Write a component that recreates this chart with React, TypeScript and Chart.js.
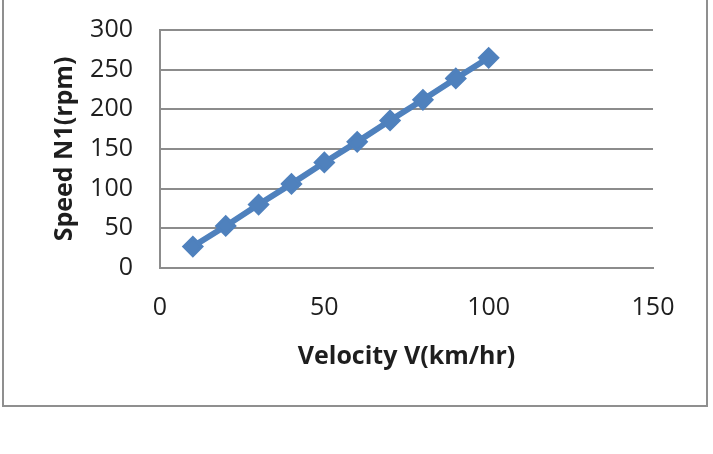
import React, { useEffect, useRef } from "react";
import { Chart, registerables } from "chart.js";

Chart.register(...registerables);

const velocity = [10, 20, 30, 40, 50, 60, 70, 80, 90, 100];
const speedN1 = [27, 53, 80, 106, 133, 159, 186, 212, 239, 265];
const xTicks = [0, 50, 100, 150];
const yTicks = [0, 50, 100, 150, 200, 250, 300];
const xTitle = "Velocity V(km/hr)";
const yTitle = "Speed N1(rpm)";

const FONT = "'Open Sans', 'Liberation Sans', sans-serif";
const GRID = "#8c8c8c";
const BLUE = "#4F81BD";

export default function App() {
  const ref = useRef<HTMLCanvasElement | null>(null);

  useEffect(() => {
    if (!ref.current) return;
    const chart = new Chart(ref.current, {
      type: "scatter",
      data: {
        datasets: [
          {
            data: velocity.map((v, i) => ({ x: v, y: speedN1[i] })),
            showLine: true,
            borderColor: BLUE,
            backgroundColor: BLUE,
            borderWidth: 6,
            pointStyle: "rectRot",
            pointRadius: 9,
            pointBorderWidth: 3,
            pointBackgroundColor: BLUE,
            pointBorderColor: BLUE,
          },
        ],
      },
      options: {
        animation: false,
        responsive: false,
        maintainAspectRatio: false,
        layout: { padding: { left: 0, top: 30, right: 60, bottom: 0 } },
        plugins: { legend: { display: false }, tooltip: { enabled: false } },
        scales: {
          x: {
            type: "linear",
            min: 0,
            max: 150,
            afterBuildTicks: (s: any) => {
              s.ticks = xTicks.map((v) => ({ value: v }));
            },
            afterFit: (s: any) => {
              s.height = 186;
              s.paddingLeft = 0;
              s.paddingRight = 0;
              s.paddingTop = 0;
              s.paddingBottom = 0;
            },
            grid: { display: false, drawTicks: false },
            border: { display: true, color: GRID, width: 2 },
            ticks: {
              padding: 25,
              color: "#1e1e1e",
              font: { family: FONT, size: 25 },
            },
            title: {
              display: true,
              text: xTitle,
              color: "#1e1e1e",
              font: { family: FONT, size: 25, weight: "bold" },
              padding: { top: 0, bottom: 82 },
            },
          },
          y: {
            type: "linear",
            min: 0,
            max: 300,
            afterBuildTicks: (s: any) => {
              s.ticks = yTicks.map((v) => ({ value: v }));
            },
            afterFit: (s: any) => {
              s.width = 160;
              s.paddingLeft = 0;
              s.paddingRight = 0;
              s.paddingTop = 0;
              s.paddingBottom = 0;
            },
            grid: { display: true, drawTicks: false, color: GRID, lineWidth: 2 },
            border: { display: true, color: GRID, width: 2 },
            ticks: {
              padding: 27,
              color: "#1e1e1e",
              font: { family: FONT, size: 25 },
            },
            title: {
              display: true,
              text: yTitle,
              color: "#1e1e1e",
              font: { family: FONT, size: 25, weight: "bold" },
              padding: { top: 50, bottom: 0 },
            },
          },
        },
      },
    });
    return () => chart.destroy();
  }, []);

  return (
    <div style={{ position: "absolute", left: 0, top: 0, width: 713, height: 454, background: "#fff", overflow: "hidden" }}>
      <div
        style={{
          position: "absolute",
          left: 2,
          top: -10,
          width: 706,
          height: 417,
          border: "2px solid #8f8f8f",
          boxSizing: "border-box",
        }}
      />
      <canvas ref={ref} width={713} height={454} style={{ position: "absolute", left: 0, top: 0, width: 713, height: 454 }} />
    </div>
  );
}
